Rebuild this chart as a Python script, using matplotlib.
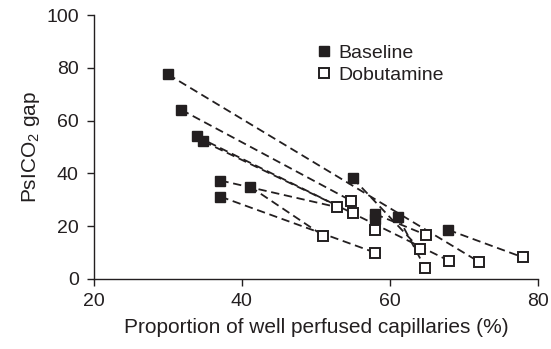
import matplotlib
matplotlib.use("Agg")
import matplotlib.pyplot as plt

plt.rcParams['font.family'] = ['Liberation Sans', 'DejaVu Sans']
plt.rcParams['mathtext.default'] = 'regular'

# Baseline values (proportion of well perfused capillaries %, PsICO2 gap)
baseline_x = [30.0, 31.8, 33.9, 34.8, 37.1, 37.1, 41.1, 55.0, 58.0, 58.0, 61.1, 67.9]
baseline_y = [77.5, 64.1, 54.0, 52.1, 37.3, 31.2, 35.0, 38.2, 24.6, 22.6, 23.6, 18.6]
# Dobutamine values, same patient order
dobutamine_x = [72.0, 54.8, 68.0, 55.0, 52.9, 58.0, 51.0, 64.1, 64.9, 58.0, 64.8, 78.0]
dobutamine_y = [6.6, 29.6, 6.9, 24.9, 27.2, 10.0, 16.4, 11.3, 16.7, 18.6, 4.1, 8.2]

x_ticks = [20, 40, 60, 80]
y_ticks = [0, 20, 40, 60, 80, 100]

dark = '#231f20'

fig = plt.figure(figsize=(5.51, 3.49), dpi=100)
ax = fig.add_axes([0.1706, 0.2006, 0.8053, 0.7564])

for bx, by, dx, dy in zip(baseline_x, baseline_y, dobutamine_x, dobutamine_y):
    ax.plot([bx, dx], [by, dy], color=dark, lw=1.3, linestyle=(0, (4.6, 2.6)), zorder=1)

ax.plot(baseline_x, baseline_y, linestyle='none', marker='s', markersize=7.5,
        markerfacecolor=dark, markeredgecolor=dark, zorder=3, label='Baseline')
ax.plot(dobutamine_x, dobutamine_y, linestyle='none', marker='s', markersize=7.5,
        markerfacecolor='white', markeredgecolor=dark, markeredgewidth=1.4, zorder=3,
        label='Dobutamine')

ax.set_xlim(20, 80)
ax.set_ylim(0, 100)
ax.set_xticks(x_ticks)
ax.set_yticks(y_ticks)
for s in ['top', 'right']:
    ax.spines[s].set_visible(False)
for s in ['left', 'bottom']:
    ax.spines[s].set_color(dark)
    ax.spines[s].set_linewidth(1.0)
ax.tick_params(direction='out', length=5, width=1.0, colors=dark, labelsize=14, labelcolor=dark)
ax.tick_params(axis='y', pad=6)
ax.tick_params(axis='x', pad=5)

ax.set_xlabel('Proportion of well perfused capillaries (%)', fontsize=15, color=dark, labelpad=6)
ax.set_ylabel('PsICO$_2$ gap', fontsize=15, color=dark, labelpad=3)

leg = ax.legend(loc='upper left', bbox_to_anchor=(0.476, 0.925), frameon=False, fontsize=14,
                handletextpad=0.3, labelspacing=0.2, handlelength=0.9, borderpad=0)
for t in leg.get_texts():
    t.set_color(dark)

fig.savefig('out.png', dpi=100)
